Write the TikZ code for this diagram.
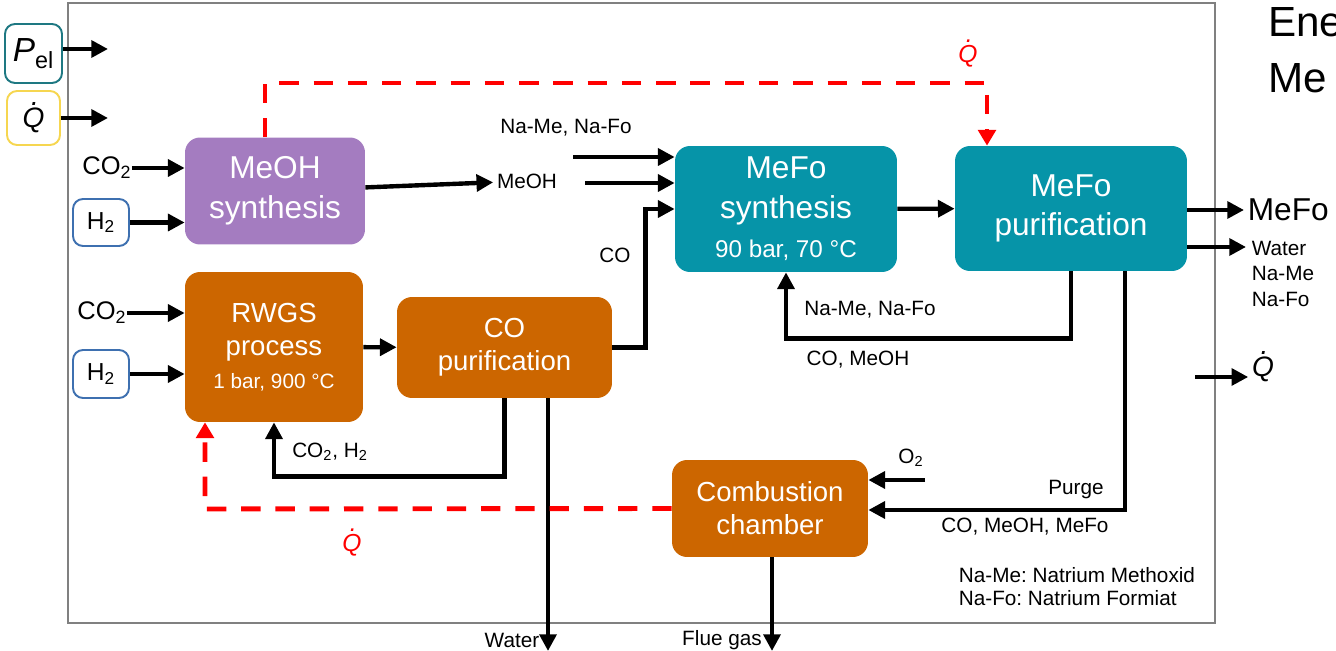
\documentclass[tikz,border=0pt]{standalone}
\usepackage{fontspec}
\setmainfont{Liberation Sans}
\usetikzlibrary{positioning, arrows.meta}
\frenchspacing

\definecolor{meohpurple}{RGB}{164,124,192}
\definecolor{mefoteal}{RGB}{6,148,168}
\definecolor{rwgsorange}{RGB}{204,102,0}
\definecolor{heatred}{RGB}{255,0,0}
\definecolor{pelteal}{RGB}{30,120,130}
\definecolor{qyellow}{RGB}{246,214,80}
\definecolor{htwoblue}{RGB}{62,112,176}

\newcommand{\Qdot}{{\itshape\ooalign{Q\cr\hidewidth\raisebox{0.8em}{\kern0.1em.}\hidewidth\cr}}}

\begin{document}
\begin{tikzpicture}[
    x=0.02cm, y=-0.02cm,
    every node/.style={inner sep=0pt, align=center},
    bigproc/.style={rounded corners=0.3cm, text=white, font=\fontsize{18}{22.5}\selectfont},
    smallproc/.style={rounded corners=0.3cm, text=white, fill=rwgsorange, font=\fontsize{15.7}{18.9}\selectfont},
    inbox/.style={draw, line width=1.1pt, rounded corners=0.2cm, fill=white},
    note/.style={inner sep=2pt, font=\fontsize{11.8}{14.7}\selectfont},
    flow/.style={draw, line width=2.5pt, -{Triangle[length=9.5pt,width=9.5pt]}},
    heat/.style={draw=heatred, line width=2.8pt, dash pattern=on 11pt off 8.5pt, -{Triangle[length=9pt,width=10pt]}}
]
\useasboundingbox (0,0) rectangle (1336,651);
\clip (0,0) rectangle (1336,651);

% Frame
\draw[gray, line width=0.6pt] (68,3) rectangle (1215,623);

% Title (cut off)
\node[anchor=west, font=\fontsize{24}{24}\selectfont] (titleA) at (1268,22) {Ene};
\node[anchor=west, font=\fontsize{24}{24}\selectfont] (titleB) at (1268,78) {Me};

% Energy inputs
\node[inbox, draw=pelteal, minimum width=1.14cm, minimum height=1.18cm] (pel) at (33.5,53.5)
    {\fontsize{19}{19}\selectfont\textit{P}\textsubscript{el}};
\node[inbox, draw=qyellow, minimum width=1.06cm, minimum height=1.08cm] (qin) at (33.5,118)
    {\fontsize{16}{16}\selectfont\Qdot};
\coordinate (pelout) at (108,49);
\coordinate (qinout) at (108,118);

% Process units
\node[bigproc, fill=meohpurple, minimum width=3.6cm, minimum height=2.14cm] (meoh) at (275,191)
    {MeOH\\synthesis};
\node[smallproc, minimum width=3.56cm, minimum height=3cm] (rwgs) at (274,347)
    {RWGS\\process\\{\fontsize{11.8}{14}\selectfont 1 bar, 900 °C}};
\node[smallproc, minimum width=4.3cm, minimum height=2.02cm] (copur) at (504.5,347.5)
    {CO\\purification};
\node[bigproc, fill=mefoteal, minimum width=4.44cm, minimum height=2.52cm] (mefosyn) at (786,209)
    {MeFo\\synthesis\\{\fontsize{13.8}{16}\selectfont 90 bar, 70 °C}};
\node[bigproc, fill=mefoteal, minimum width=4.64cm, minimum height=2.5cm] (mefopur) at (1071,208.5)
    {MeFo\\purification};
\node[smallproc, minimum width=3.92cm, minimum height=1.94cm] (comb) at (770,508.5)
    {Combustion\\chamber};

% Feed streams
\node[font=\fontsize{14.5}{14.5}\selectfont] (co2a) at (107,168) {CO\textsubscript{2}};
\node[inbox, draw=htwoblue, minimum width=1.12cm, minimum height=0.94cm,
      font=\fontsize{14}{14}\selectfont] (h2a) at (101,222.5) {H\textsubscript{2}};
\node[font=\fontsize{14.5}{14.5}\selectfont] (co2b) at (102,313) {CO\textsubscript{2}};
\node[inbox, draw=htwoblue, minimum width=1.12cm, minimum height=0.96cm,
      font=\fontsize{14}{14}\selectfont] (h2b) at (101,374) {H\textsubscript{2}};

% Stream labels
\node[note] (mtext) at (527,181) {MeOH};
\node[note] (nalabel) at (566,128) {Na-Me, Na-Fo};
\node[note] (colabel) at (615,255) {CO};
\node[note] (recna) at (870,310) {Na-Me, Na-Fo};
\node[note] (recco) at (858,360) {CO, MeOH};
\node[note] (recco2) at (330,452) {CO\textsubscript{2}, H\textsubscript{2}};
\node[note] (o2label) at (911,458) {O\textsubscript{2}};
\node[note] (purgelabel) at (1076,490) {Purge};
\node[note] (purgemix) at (1025,527) {CO, MeOH, MeFo};
\node[note] (waterlabel) at (512,640) {Water};
\node[note] (fluelabel) at (722,640) {Flue gas};
\node[note, anchor=west] (mefolabel) at (1244,210) {\fontsize{18}{18}\selectfont MeFo};
\node[note, anchor=north west, align=left] (reslabel) at (1248,237) {Water\\Na-Me\\Na-Fo};
\node[note, font=\fontsize{16}{16}\selectfont] (qlabel) at (1263,367) {\Qdot};
\node[note, text=heatred, font=\fontsize{14}{14}\selectfont] (qtoplabel) at (968,54) {\Qdot};
\node[note, text=heatred, font=\fontsize{14}{14}\selectfont] (qbotlabel) at (352,543) {\Qdot};
\node[note, anchor=west] (legme) at (955,575) {Na-Me: Natrium Methoxid};
\node[note, anchor=west] (legfo) at (955,598) {Na-Fo: Natrium Formiat};

% Free ends
\coordinate (nain) at (573,157);
\coordinate (mein) at (585,183);
\coordinate (resout) at (1246,247);
\coordinate (qstart) at (1195,377);
\coordinate (o2in) at (925,480);
\coordinate (purge) at (1125,510);
\coordinate (waterout) at (548,651);
\coordinate (flueout) at (772,651);
\coordinate (qtopl) at (265,83);
\coordinate (qtopr) at (987,83);
\coordinate (qbot) at (205,509);

% Arrows
\draw[flow] (pel.east |- pelout) -- (pelout);
\draw[flow] (qin.east |- qinout) -- (qinout);
\draw[flow] (co2a) -- (co2a -| meoh.west);
\draw[flow] (h2a) -- (h2a -| meoh.west);
\draw[flow] (co2b) -- (co2b -| rwgs.west);
\draw[flow] (h2b) -- (h2b -| rwgs.west);
\draw[flow] (meoh) -- (mtext);
\draw[flow] (nain) -- (nain -| mefosyn.west);
\draw[flow] (mein) -- (mein -| mefosyn.west);
\draw[flow] (rwgs) -- (copur);
\draw[flow] (copur.east) -- ++(33,0) |- (mefosyn.west);
\draw[flow] (copur.south) -- ++(0,78) -| (rwgs.south);
\draw[flow] (waterout |- copur.south) -- (waterout);
\draw[flow] (mefosyn) -- (mefopur);
\draw[flow] (mefopur.east |- mefolabel) -- (mefolabel.west);
\draw[flow] (resout -| mefopur.east) -- (resout);
\draw[flow] (qstart) -- (qstart -| qlabel.west);
\draw[flow] (mefopur.south) -- ++(0,67) -| (mefosyn.south);
\draw[flow] (purge |- mefopur.south) -- (purge) -- (purge -| comb.east);
\draw[flow] (o2in) -- (o2in -| comb.east);
\draw[flow] (flueout |- comb.south) -- (flueout);

% Heat integration
\draw[heat] (qtopl |- meoh.north) -- (qtopl) -- (qtopr) -- (qtopr |- mefopur.north);
\draw[heat] (comb.west) -- (qbot) -- (qbot |- rwgs.south);

\end{tikzpicture}
\end{document}
